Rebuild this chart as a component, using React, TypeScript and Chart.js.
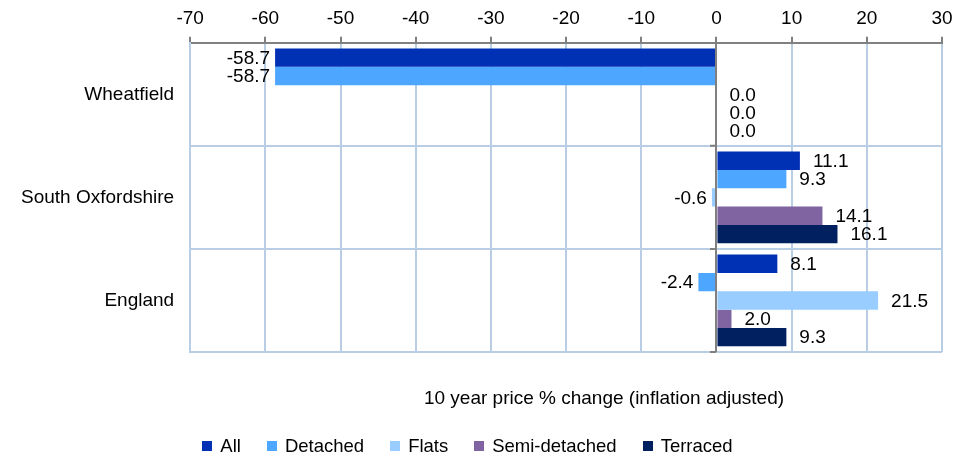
import React, { useEffect, useRef } from "react";
import { Chart, registerables } from "chart.js";

Chart.register(...registerables);

const categories = ["Wheatfield", "South Oxfordshire", "England"];
const seriesNames = ["All", "Detached", "Flats", "Semi-detached", "Terraced"];
const allValues = [-58.7, 11.1, 8.1];
const detachedValues = [-58.7, 9.3, -2.4];
const flatsValues = [0.0, -0.6, 21.5];
const semiDetachedValues = [0.0, 14.1, 2.0];
const terracedValues = [0.0, 16.1, 9.3];
const seriesColors = ["#0030B4", "#4DA6FF", "#99CCFF", "#8064A2", "#002060"];
const xMin = -70;
const xMax = 30;
const xStep = 10;
const axisTitle = "10 year price % change (inflation adjusted)";

const FONT = "'Liberation Sans', Arial, sans-serif";
const GRID = "#B9CDE5";
const AXIS = "#808080";

const valueLabels = {
  id: "valueLabels",
  afterDatasetsDraw(chart: any) {
    const ctx = chart.ctx;
    ctx.save();
    ctx.font = `19px ${FONT}`;
    ctx.fillStyle = "#000";
    ctx.textBaseline = "middle";
    chart.data.datasets.forEach((ds: any, di: number) => {
      const meta = chart.getDatasetMeta(di);
      meta.data.forEach((el: any, i: number) => {
        const v = ds.data[i];
        const t = v.toFixed(1);
        if (v >= 0) {
          ctx.textAlign = "left";
          ctx.fillText(t, el.x + 13, el.y + 1);
        } else {
          ctx.textAlign = "right";
          ctx.fillText(t, el.x - 5, el.y + 1);
        }
      });
    });
    ctx.restore();
  },
};

const zeroLine = {
  id: "zeroLine",
  afterDatasetsDraw(chart: any) {
    const { ctx, chartArea } = chart;
    const xs = chart.scales.x;
    const ys = chart.scales.y;
    const x0 = Math.round(xs.getPixelForValue(0));
    ctx.save();
    ctx.strokeStyle = AXIS;
    ctx.lineWidth = 2;
    ctx.beginPath();
    ctx.moveTo(x0, chartArea.top);
    ctx.lineTo(x0, chartArea.bottom);
    const n = categories.length;
    const band = (chartArea.bottom - chartArea.top) / n;
    for (let i = 1; i <= n; i++) {
      const y = ys.getPixelForValue(i - 1) + band / 2;
      ctx.moveTo(x0 - 6, y);
      ctx.lineTo(x0, y);
    }
    ctx.stroke();
    ctx.restore();
  },
};

export default function App() {
  const ref = useRef<HTMLCanvasElement | null>(null);
  useEffect(() => {
    document.body.style.margin = "0";
    const seriesValues = [allValues, detachedValues, flatsValues, semiDetachedValues, terracedValues];
    const chart = new Chart(ref.current as HTMLCanvasElement, {
      type: "bar",
      data: {
        labels: categories,
        datasets: seriesNames.map((name, i) => ({
          label: name,
          data: seriesValues[i],
          backgroundColor: seriesColors[i],
          borderWidth: 0,
          categoryPercentage: 0.89,
          barPercentage: 1,
        })),
      },
      plugins: [valueLabels, zeroLine],
      options: {
        indexAxis: "y",
        animation: false,
        responsive: true,
        maintainAspectRatio: false,
        layout: { padding: { top: 0, left: 5, right: 11, bottom: 104 } },
        scales: {
          x: {
            position: "top",
            min: xMin,
            max: xMax,
            afterFit: (s: any) => {
              s.paddingLeft = 0;
              s.paddingRight = 0;
            },
            ticks: { stepSize: xStep, color: "#000", font: { family: FONT, size: 19 }, padding: 7 },
            grid: { color: GRID, lineWidth: 2, tickColor: AXIS, tickLength: 6, tickWidth: 2 },
            border: { color: AXIS, width: 2 },
          },
          y: {
            afterFit: (s: any) => {
              s.paddingTop = 0;
              s.paddingBottom = 0;
            },
            ticks: { color: "#000", font: { family: FONT, size: 19 }, padding: 16 },
            grid: { color: GRID, lineWidth: 2, drawTicks: false },
            border: { color: GRID, width: 2 },
          },
        },
        plugins: {
          legend: { display: false },
          tooltip: { enabled: false },
        },
      },
    });
    return () => chart.destroy();
  }, []);
  return (
    <div style={{ width: 953, height: 456, position: "relative", fontFamily: FONT }}>
      <canvas ref={ref} />
      <div
        style={{
          position: "absolute",
          left: 0,
          right: 0,
          top: 387,
          height: 22,
          lineHeight: "22px",
          paddingLeft: 255,
          textAlign: "center",
          fontSize: 19,
          color: "#000",
          whiteSpace: "nowrap",
        }}
      >
        {axisTitle}
      </div>
      <div
        style={{
          position: "absolute",
          left: 0,
          right: 18,
          top: 436,
          height: 20,
          display: "flex",
          justifyContent: "center",
          alignItems: "center",
          fontSize: 18.5,
          lineHeight: "20px",
          color: "#000",
        }}
      >
        {seriesNames.map((name, i) => (
          <span
            key={name}
            style={{
              display: "flex",
              alignItems: "center",
              marginRight: i < seriesNames.length - 1 ? 26 : 0,
            }}
          >
            <span
              style={{
                display: "inline-block",
                width: 10,
                height: 10,
                background: seriesColors[i],
                marginRight: 8,
              }}
            />
            <span>{name}</span>
          </span>
        ))}
      </div>
    </div>
  );
}
